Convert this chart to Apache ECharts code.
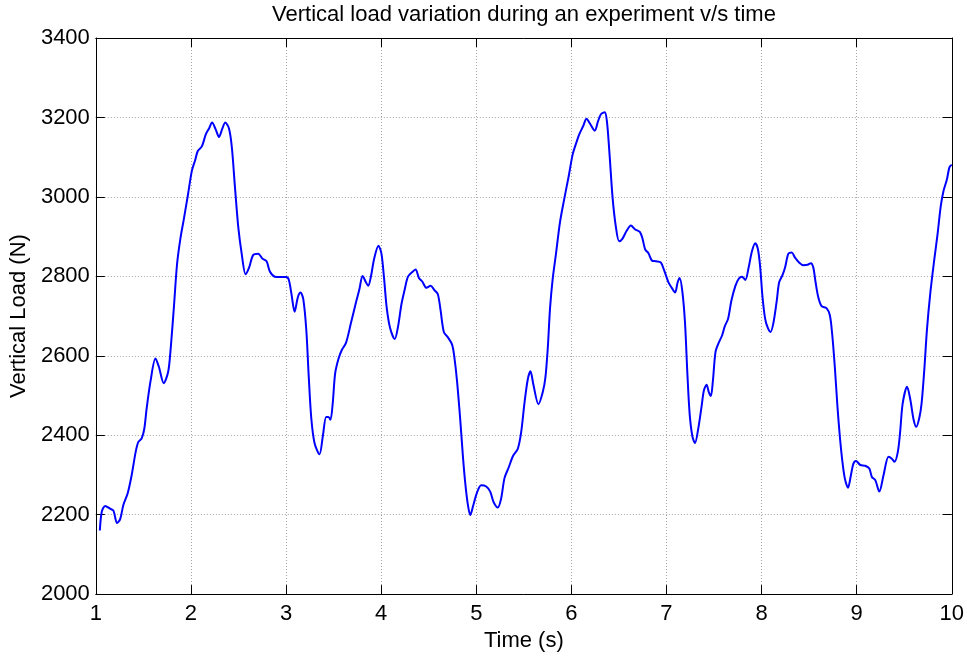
<!DOCTYPE html>
<html>
<head>
<meta charset="utf-8">
<script src="https://cdn.jsdelivr.net/npm/echarts@6/dist/echarts.min.js"></script>
<style>
html,body{margin:0;padding:0;background:#fff;}
#chart{width:967px;height:657px;}
</style>
</head>
<body>
<div id="chart"></div>
<script>
// Time (s)
const timeValues = [
1.042,1.063,1.098,1.15,1.185,1.223,1.255,1.29,1.335,1.377,1.419,1.447,1.482,1.51,1.534,1.575,1.627,1.662,1.714,1.76,
1.784,1.82,1.854,1.889,1.923,1.969,2.01,2.045,2.073,2.115,2.157,2.192,2.222,2.26,2.295,2.33,2.361,2.4,2.43,2.463,
2.498,2.533,2.575,2.61,2.655,2.707,2.75,2.795,2.83,2.882,2.934,2.969,3.0,3.028,3.056,3.09,3.125,3.153,3.181,3.213,
3.237,3.265,3.3,3.352,3.387,3.422,3.446,3.467,3.491,3.516,3.55,3.585,3.631,3.683,3.735,3.77,3.805,3.84,3.864,3.892,
3.927,3.972,4.003,4.031,4.059,4.094,4.143,4.178,4.213,4.247,4.282,4.328,4.362,4.397,4.432,4.477,4.519,4.561,4.596,4.624,
4.659,4.7,4.746,4.77,4.798,4.833,4.861,4.885,4.91,4.937,4.968,5.007,5.052,5.105,5.147,5.182,5.227,5.262,5.297,5.343,
5.385,5.437,5.472,5.507,5.542,5.57,5.601,5.654,5.699,5.727,5.752,5.776,5.804,5.839,5.881,5.927,5.972,6.014,6.056,6.084,
6.126,6.159,6.2,6.246,6.28,6.311,6.351,6.374,6.399,6.434,6.469,6.503,6.538,6.58,6.626,6.671,6.72,6.748,6.776,6.811,
6.846,6.888,6.94,6.976,7.021,7.056,7.09,7.118,7.139,7.167,7.195,7.22,7.244,7.272,7.3,7.334,7.369,7.394,7.422,7.446,
7.467,7.488,7.516,7.55,7.585,7.613,7.648,7.683,7.725,7.76,7.794,7.829,7.864,7.899,7.934,7.962,7.986,8.01,8.038,8.066,
8.094,8.125,8.16,8.185,8.22,8.247,8.282,8.317,8.352,8.394,8.439,8.484,8.519,8.544,8.568,8.596,8.631,8.683,8.718,8.742,
8.77,8.798,8.822,8.847,8.875,8.909,8.94,8.965,8.993,9.039,9.09,9.133,9.16,9.196,9.238,9.283,9.335,9.37,9.398,9.433,
9.457,9.484,9.53,9.564,9.599,9.627,9.659,9.683,9.711,9.739,9.774,9.815,9.85,9.885,9.913,9.948,9.976,10.0
];
// Vertical load (N)
const loadValues = [
2160,2208,2222,2215,2210,2179,2188,2225,2254,2300,2358,2383,2392,2417,2467,2536,2593,2573,2531,2559,
2610,2720,2831,2895,2941,3006,3066,3093,3116,3127,3158,3173,3187,3170,3151,3172,3187,3172,3125,3024,
2923,2858,2805,2821,2854,2857,2845,2838,2812,2799,2798,2798,2798,2792,2757,2711,2748,2759,2743,2665,
2555,2444,2380,2352,2398,2446,2446,2439,2481,2555,2591,2614,2633,2683,2734,2766,2801,2785,2776,2799,
2845,2877,2857,2794,2720,2670,2642,2674,2729,2766,2799,2811,2817,2796,2787,2771,2776,2765,2755,2716,
2660,2647,2628,2596,2536,2435,2343,2278,2228,2199,2223,2255,2274,2271,2258,2232,2218,2241,2292,2320,
2347,2366,2407,2481,2541,2561,2527,2478,2508,2545,2619,2720,2794,2858,2937,2997,3052,3107,3139,3158,
3179,3197,3183,3167,3190,3208,3213,3190,3116,2997,2923,2888,2895,2914,2928,2918,2912,2895,2868,2858,
2840,2838,2835,2815,2785,2771,2759,2785,2796,2762,2683,2555,2453,2398,2380,2416,2472,2513,2527,2508,
2499,2536,2610,2633,2651,2674,2693,2739,2776,2794,2799,2791,2822,2863,2883,2868,2822,2748,2693,2670,
2660,2683,2739,2785,2803,2822,2857,2860,2847,2835,2828,2829,2833,2822,2785,2748,2725,2720,2702,2656,
2573,2472,2400,2340,2292,2268,2300,2328,2335,2325,2323,2316,2295,2287,2258,2300,2346,2341,2333,2358,
2408,2480,2522,2490,2439,2421,2444,2481,2564,2665,2757,2840,2905,2978,3015,3043,3075,3081
];
const xTicks = [1,2,3,4,5,6,7,8,9,10];
const yTicks = [2000,2200,2400,2600,2800,3000,3200,3400];
const titleText = 'Vertical load variation during an experiment v/s time';
const xName = 'Time (s)';
const yName = 'Vertical Load (N)';

const seriesData = timeValues.map((t, i) => [t, loadValues[i]]);
const FONT = '"Liberation Sans", Arial, Helvetica, sans-serif';

const chart = echarts.init(document.getElementById('chart'), null, {renderer: 'canvas'});
const axisLineStyle = {color: '#000', width: 1};
const gridLine = {show: true, lineStyle: {color: '#a6a6a6', type: [1, 2], width: 1}};

chart.setOption({
  backgroundColor: '#ffffff',
  animation: false,
  title: {
    text: titleText,
    left: 524,
    top: 4,
    padding: 0,
    textAlign: 'center',
    textStyle: {fontFamily: FONT, fontSize: 22, fontWeight: 'normal', color: '#000'}
  },
  grid: {left: 94, right: 13, top: 38, bottom: 57, containLabel: false},
  xAxis: [{
    type: 'value',
    min: xTicks[0], max: xTicks[xTicks.length - 1], interval: 1,
    name: xName, nameLocation: 'middle', nameGap: 33,
    nameTextStyle: {fontFamily: FONT, fontSize: 22, color: '#000'},
    axisLine: {show: true, lineStyle: axisLineStyle},
    axisTick: {show: true, inside: true, length: 9, lineStyle: axisLineStyle},
    axisLabel: {fontFamily: FONT, fontSize: 22, color: '#000', margin: 9, formatter: v => String(v)},
    splitLine: gridLine
  }, {
    type: 'value', position: 'top',
    min: xTicks[0], max: xTicks[xTicks.length - 1], interval: 1,
    axisLine: {show: true, lineStyle: axisLineStyle},
    axisTick: {show: true, inside: true, length: 9, lineStyle: axisLineStyle},
    axisLabel: {show: false},
    splitLine: {show: false}
  }],
  yAxis: [{
    type: 'value',
    min: yTicks[0], max: yTicks[yTicks.length - 1], interval: 200,
    name: yName, nameLocation: 'middle', nameGap: 58,
    nameTextStyle: {fontFamily: FONT, fontSize: 22, color: '#000'},
    axisLine: {show: true, lineStyle: axisLineStyle},
    axisTick: {show: true, inside: true, length: 9, lineStyle: axisLineStyle},
    axisLabel: {fontFamily: FONT, fontSize: 22, color: '#000', margin: 6, formatter: v => String(v)},
    splitLine: gridLine
  }, {
    type: 'value', position: 'right',
    min: yTicks[0], max: yTicks[yTicks.length - 1], interval: 200,
    axisLine: {show: true, lineStyle: axisLineStyle},
    axisTick: {show: true, inside: true, length: 9, lineStyle: axisLineStyle},
    axisLabel: {show: false},
    splitLine: {show: false}
  }],
  series: [{
    type: 'line',
    data: seriesData,
    xAxisIndex: 0, yAxisIndex: 0,
    showSymbol: false,
    smooth: 0.3,
    lineStyle: {color: '#0000ff', width: 2},
    itemStyle: {color: '#0000ff'}
  }]
});
</script>
</body>
</html>
